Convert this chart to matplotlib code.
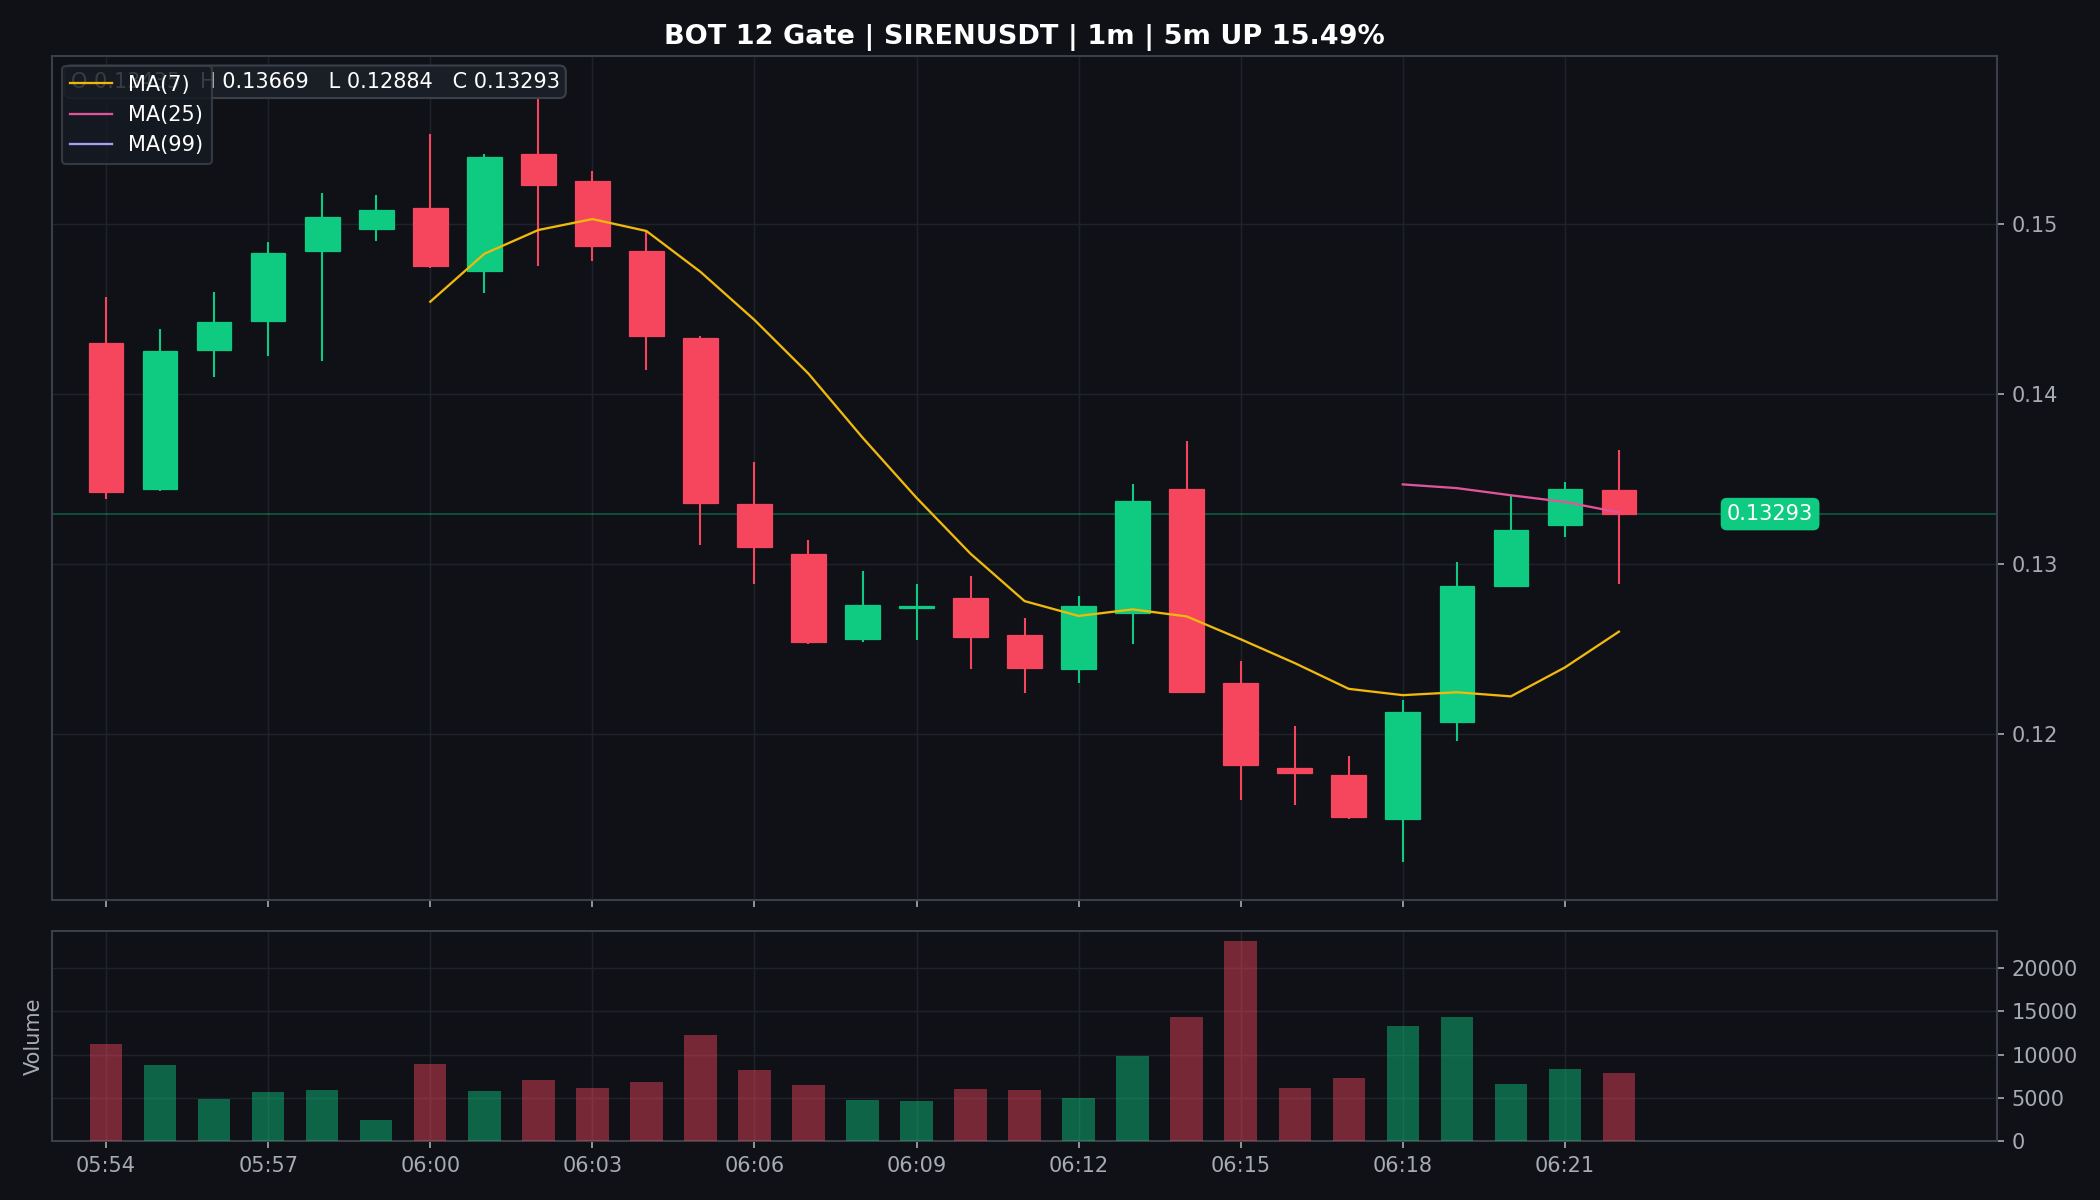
import matplotlib
matplotlib.use("Agg")
import matplotlib.pyplot as plt
from matplotlib.patches import Rectangle
import numpy as np

# ---- data -----------------------------------------------------------------
times = ["05:54", "05:55", "05:56", "05:57", "05:58", "05:59", "06:00", "06:01",
         "06:02", "06:03", "06:04", "06:05", "06:06", "06:07", "06:08", "06:09",
         "06:10", "06:11", "06:12", "06:13", "06:14", "06:15", "06:16", "06:17",
         "06:18", "06:19", "06:20", "06:21", "06:22"]
opens = [0.1430, 0.1344, 0.1426, 0.1443, 0.1484, 0.1497, 0.1509, 0.1472,
         0.1541, 0.1525, 0.1484, 0.1433, 0.1335, 0.1306, 0.1256, 0.1274,
         0.1280, 0.1258, 0.1238, 0.1271, 0.1344, 0.1230, 0.1180, 0.1176,
         0.1150, 0.1207, 0.1287, 0.1323, 0.13435]
highs = [0.1457, 0.1438, 0.1460, 0.1489, 0.1518, 0.1517, 0.1553, 0.1541,
         0.1576, 0.1531, 0.1496, 0.1434, 0.1360, 0.1314, 0.1296, 0.1288,
         0.1293, 0.1268, 0.1281, 0.1347, 0.1372, 0.1243, 0.1205, 0.1187,
         0.1220, 0.1301, 0.1340, 0.1348, 0.13669]
lows = [0.1338, 0.1343, 0.1410, 0.1422, 0.1419, 0.1490, 0.1474, 0.1459,
        0.1475, 0.1478, 0.1414, 0.1311, 0.1288, 0.1253, 0.1254, 0.1255,
        0.1238, 0.1224, 0.1230, 0.1253, 0.1225, 0.1161, 0.1158, 0.1150,
        0.1125, 0.1196, 0.1287, 0.1316, 0.12884]
closes = [0.1342, 0.1425, 0.1442, 0.1483, 0.1504, 0.1508, 0.1475, 0.1539,
          0.1523, 0.1487, 0.1434, 0.1336, 0.1310, 0.1254, 0.1276, 0.1275,
          0.1257, 0.1239, 0.1275, 0.1337, 0.1225, 0.1182, 0.1177, 0.1151,
          0.1213, 0.1287, 0.1320, 0.1344, 0.13293]
volumes = [11270, 8850, 4810, 5620, 5850, 2380, 8960, 5730, 7000, 6080,
           6770, 12310, 8270, 6420, 4690, 4580, 5960, 5850, 4920, 9880,
           14380, 23150, 6080, 7230, 13350, 14380, 6650, 8380, 7920]
ma_periods = [7, 25, 99]
ma_labels = ["MA(7)", "MA(25)", "MA(99)"]
title = "BOT 12 Gate | SIRENUSDT | 1m | 5m UP 15.49%"
tick_every = 3

# ---- style ----------------------------------------------------------------
BG = "#0f1117"
GREEN = "#0ecb81"
RED = "#f6465d"
SPINE = "#3b3f47"
GRID = "#1f2329"
TXT = "#a7abb2"
MA_COLORS = ["#f0b90b", "#e0559a", "#a89cf5"]

plt.rcParams["font.family"] = ["DejaVu Sans"]

fig = plt.figure(figsize=(14, 8), dpi=150, facecolor=BG)
ax = fig.add_axes([0.0248, 0.25, 0.9262, 0.7033], facecolor=BG)
axv = fig.add_axes([0.0248, 0.0492, 0.9262, 0.175], facecolor=BG, sharex=ax)

n = len(closes)
x = np.arange(n)
o = np.array(opens); h = np.array(highs); l = np.array(lows); c = np.array(closes)
up = c >= o
colors = [GREEN if u else RED for u in up]

body_w = 0.64
for i in range(n):
    ax.vlines(x[i], l[i], h[i], color=colors[i], lw=1.0, zorder=3)
    bottom = min(o[i], c[i])
    height = max(abs(c[i] - o[i]), 0.00012)
    ax.add_patch(Rectangle((x[i] - body_w / 2, bottom), body_w, height,
                           facecolor=colors[i], edgecolor=colors[i], lw=0.6, zorder=4))

# moving averages
cs = np.array(closes)
for p, lab, col in zip(ma_periods, ma_labels, MA_COLORS):
    if n >= p:
        ma = np.convolve(cs, np.ones(p) / p, mode="valid")
        ax.plot(x[p - 1:], ma, color=col, lw=1.1, label=lab, zorder=5)
    else:
        ax.plot([], [], color=col, lw=1.1, label=lab)

# ranges
rng = max(highs) - min(lows)
ax.set_ylim(min(lows) - 0.05 * rng, max(highs) + 0.05 * rng)
ax.set_xlim(-1, n + 6)

# last price line & label
last = closes[-1]
ax.axhline(last, color=GREEN, lw=0.9, alpha=0.35, zorder=2)
ax.text(n + 1, last, f"{last:.5f}", color="white", fontsize=10, ha="left", va="center",
        zorder=6, bbox=dict(boxstyle="round,pad=0.3", facecolor=GREEN, edgecolor="none"))

# OHLC info box
info = f"O {opens[-1]:.5f}   H {highs[-1]:.5f}   L {lows[-1]:.5f}   C {closes[-1]:.5f}"
ax.text(0.0095, 0.9695, info, transform=ax.transAxes, color="white", fontsize=10,
        ha="left", va="center", zorder=7,
        bbox=dict(boxstyle="round,pad=0.3", facecolor="#1a1e26", edgecolor=SPINE))

leg = ax.legend(loc="upper left", bbox_to_anchor=(0.005, 0.988), fontsize=10,
                facecolor="#161a22", edgecolor=SPINE, framealpha=0.85, labelcolor="white",
                borderaxespad=0.0)
leg.set_zorder(10)

# volume
vcolors = [GREEN if u else RED for u in up]
axv.bar(x, volumes, width=0.6, color=vcolors, alpha=0.45, zorder=3)
axv.set_ylim(0, max(volumes) * 1.05)
axv.set_ylabel("Volume", color=TXT, fontsize=10)

# ticks, grid, spines
tick_pos = list(range(0, n, tick_every))
for a in (ax, axv):
    a.yaxis.tick_right()
    a.tick_params(colors=TXT, labelsize=10, length=3.5, width=0.8)
    a.grid(True, color=GRID, lw=0.7, zorder=0)
    for s in a.spines.values():
        s.set_color(SPINE)
        s.set_linewidth(1.0)
ax.set_xticks(tick_pos)
ax.tick_params(labelbottom=False)
axv.set_xticks(tick_pos)
axv.set_xticklabels([times[i] for i in tick_pos])
axv.set_yticks([0, 5000, 10000, 15000, 20000])
axv.set_yticklabels(["0", "5000", "10000", "15000", "20000"])

fig.text(0.4879, 0.969, title, color="white", fontsize=13, fontweight="bold",
         ha="center", va="center")

fig.savefig("out.png", dpi=150, facecolor=BG)
